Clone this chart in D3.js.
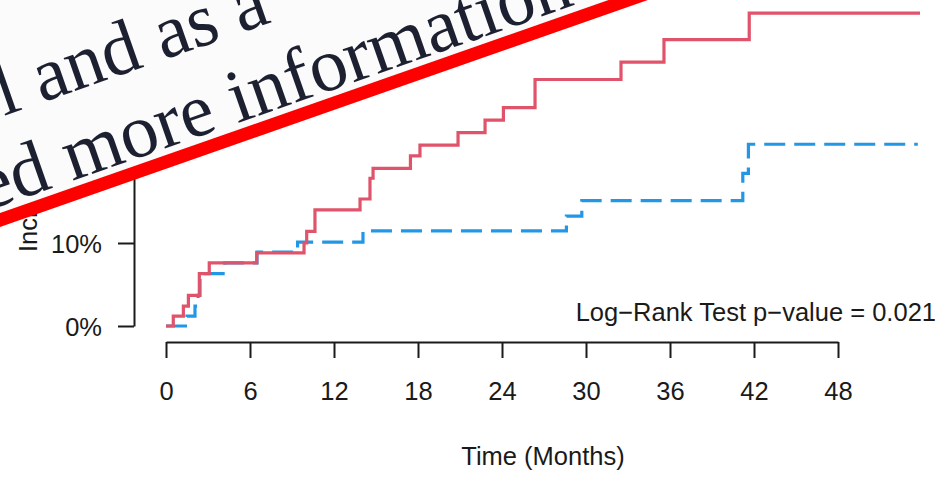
<html>
<head>
  <script src="https://d3js.org/d3.v7.min.js"></script>
  <style>
    body { margin: 0; background: white; }
  </style>
</head>
<body>
<script>

// step curves: time in months, cumulative incidence in %
let redTimes  = [0, 0.52, 1.24, 1.6, 2.38, 3.09, 6.48, 9.86, 10.05, 10.64, 13.86, 14.57, 14.79, 17.46, 18.14, 20.86, 22.79, 24.1, 26.36, 32.5, 35.57, 41.66, 53.86];
let redValues = [0, 1.2, 2.4, 3.7, 6.3, 7.6, 8.8, 10.0, 11.4, 14.0, 15.3, 17.8, 19.0, 20.5, 21.8, 23.3, 24.8, 26.3, 29.7, 31.8, 34.5, 37.7, 37.7];

let blueTimes  = [0, 1.5, 2.07, 2.29, 2.43, 4.2, 6.5, 9.4, 14.07, 28.6, 29.7, 41.2, 41.6, 53.7];
let blueValues = [0, 1.2, 2.4, 3.7, 6.3, 7.6, 8.9, 10.1, 11.45, 13.25, 15.1, 18.4, 21.9, 21.9];

let xTicks = [0, 6, 12, 18, 24, 30, 36, 42, 48];
let yTicks = [0, 10, 20, 30];

let xTitle = "Time (Months)";
let yTitle = "Incidence";
let pText = "Log\u2212Rank Test p\u2212value = 0.021";
let noteLines = ["l and as a", "ed more information"];

let canvasW = 948;
let canvasH = 477;

let svg = d3.select("body").append("svg")
  .attr("width", canvasW)
  .attr("height", canvasH)
  .style("background-color", "white");

let x = d3.scaleLinear().domain([0, 48]).range([166, 838]);
let y = d3.scaleLinear().domain([0, 30]).range([326, 77]);

let font = "'Liberation Sans', Arial, Helvetica, sans-serif";
let ink = "#1a1a1a";
let fs = "25.5px";

// x axis (R style, offset below the plot)
let xAxis = svg.append("g")
  .attr("transform", "translate(0,342)")
  .call(d3.axisBottom(x).tickValues(xTicks).tickSize(16).tickSizeOuter(0).tickPadding(24));

// y axis
let yAxis = svg.append("g")
  .attr("transform", "translate(134,0)")
  .call(d3.axisLeft(y).tickValues(yTicks).tickSize(16).tickSizeOuter(0).tickPadding(16)
    .tickFormat(d => d + "%"));

svg.selectAll(".domain, .tick line")
  .attr("stroke", ink)
  .attr("stroke-width", 2);

svg.selectAll(".tick text")
  .attr("font-family", font)
  .attr("font-size", fs)
  .attr("fill", ink);

yAxis.selectAll(".tick text").attr("dy", "0.37em");

let stepLine = d3.line()
  .x(d => x(d[0]))
  .y(d => y(d[1]))
  .curve(d3.curveStepAfter);

svg.append("path")
  .datum(blueTimes.map((t, i) => [t, blueValues[i]]))
  .attr("d", stepLine)
  .attr("fill", "none")
  .attr("stroke", "#2297E6")
  .attr("stroke-width", 3.2)
  .attr("stroke-dasharray", "21,9");

svg.append("path")
  .datum(redTimes.map((t, i) => [t, redValues[i]]))
  .attr("d", stepLine)
  .attr("fill", "none")
  .attr("stroke", "#DF536B")
  .attr("stroke-width", 3.2);

svg.append("text")
  .attr("x", 936)
  .attr("y", 321)
  .attr("text-anchor", "end")
  .attr("font-family", font)
  .attr("font-size", fs)
  .attr("fill", ink)
  .text(pText);

svg.append("text")
  .attr("x", 543)
  .attr("y", 465)
  .attr("text-anchor", "middle")
  .attr("font-family", font)
  .attr("font-size", fs)
  .attr("fill", ink)
  .text(xTitle);

svg.append("text")
  .attr("transform", "translate(37,252) rotate(-90)")
  .attr("text-anchor", "start")
  .attr("font-family", font)
  .attr("font-size", fs)
  .attr("fill", ink)
  .text(yTitle);

// pasted clipping of a page laid over the top-left corner, edged by a red bar
let note = svg.append("g")
  .attr("transform", "translate(0,220) rotate(-19.3)");

note.append("rect")
  .attr("x", -600)
  .attr("y", -1200)
  .attr("width", 2600)
  .attr("height", 1200)
  .attr("fill", "#fbfbfb");

note.selectAll("text.note")
  .data(noteLines)
  .enter()
  .append("text")
  .attr("class", "note")
  .attr("x", (d, i) => i == 0 ? 38 : -10)
  .attr("y", (d, i) => i == 0 ? -97 : -13)
  .attr("font-family", "'Liberation Serif', 'Times New Roman', serif")
  .attr("font-size", "76px")
  .attr("fill", "#1c2030")
  .text(d => d);

note.append("line")
  .attr("x1", -600)
  .attr("x2", 2000)
  .attr("y1", 0)
  .attr("y2", 0)
  .attr("stroke", "#ff0000")
  .attr("stroke-width", 13);

</script>
</body>
</html>
